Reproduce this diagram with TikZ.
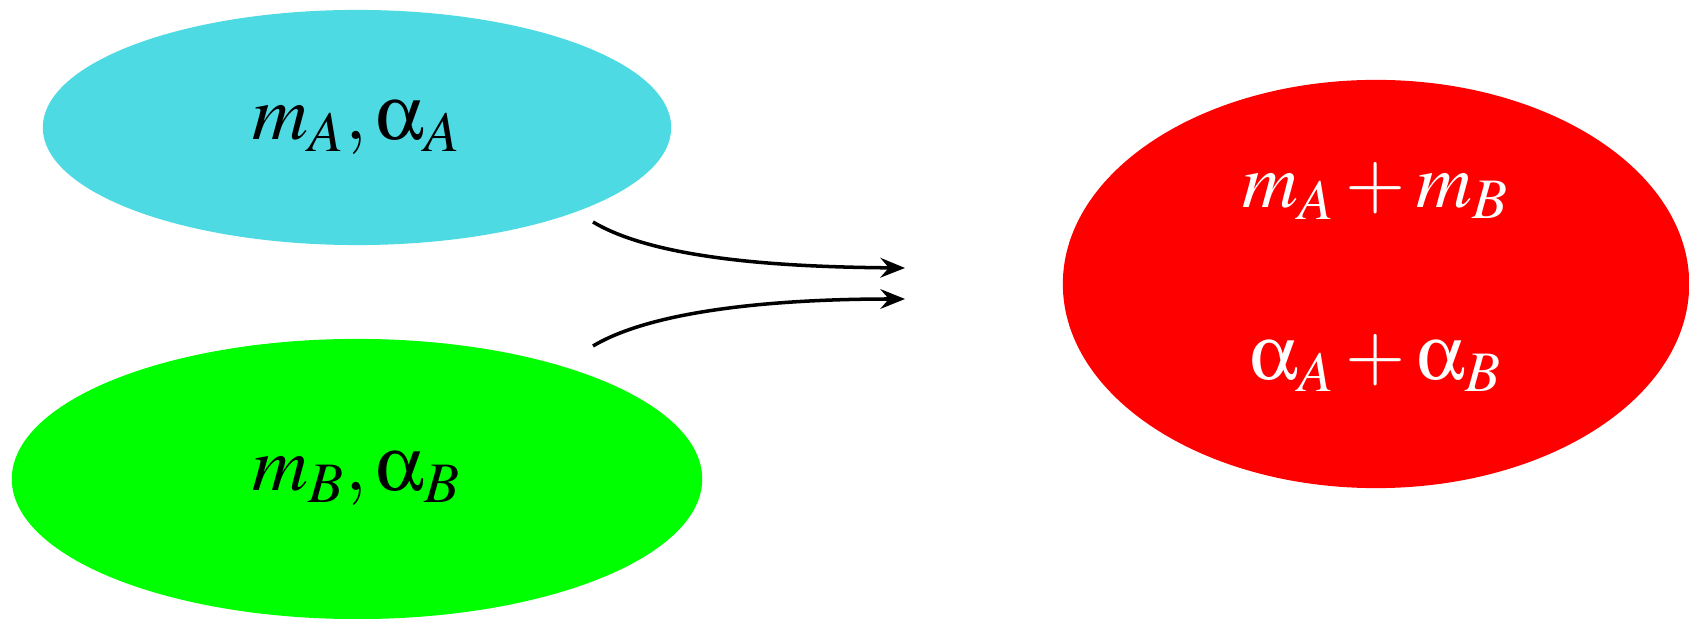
\documentclass[tikz,border=0pt]{standalone}
\usepackage{mathptmx}
\usepackage[Symbol]{upgreek}
\usepackage{tikz}
\usetikzlibrary{arrows.meta,positioning,shapes.geometric}
\definecolor{blobcyan}{RGB}{78,218,226}
\definecolor{blobgreen}{RGB}{0,255,0}
\definecolor{blobred}{RGB}{255,0,0}

\begin{document}
\begin{tikzpicture}[x=0.01cm,y=0.01cm,
  b/.style={ellipse,inner sep=0pt,font=\fontsize{22}{26}\selectfont},
  fl/.style={line width=1pt,-{Stealth[length=7pt,width=5.6pt,inset=2.4pt]}}]
\useasboundingbox (0,0) rectangle (1689,-619);
% The two masses on the left and their sum on the right.
\node[b,fill=blobcyan,minimum width=6.28cm,minimum height=2.35cm] (mA) at (357,-127.5) {$m_A,\upalpha_A$};
\node[b,fill=blobgreen,minimum width=6.9cm,minimum height=2.8cm] (mB) at (357,-479) {$m_B,\upalpha_B$};
\node[b,fill=blobred,text=white,align=center,minimum width=6.26cm,minimum height=4.08cm] (mS) at (1376,-284)
  {\rule{0pt}{16pt}$m_A+m_B$\\[23pt]$\upalpha_A+\upalpha_B$\rule[-10.6pt]{0pt}{10.6pt}};
% Free ends of the arrows.
\coordinate (sA) at (593,-222); \coordinate (eA) at (905,-268);
\coordinate (sB) at (593,-346); \coordinate (eB) at (905,-299);
\draw[fl] (sA) .. controls (660,-262) and (800,-267) .. (eA);
\draw[fl] (sB) .. controls (660,-306) and (800,-299) .. (eB);
\end{tikzpicture}
\end{document}
